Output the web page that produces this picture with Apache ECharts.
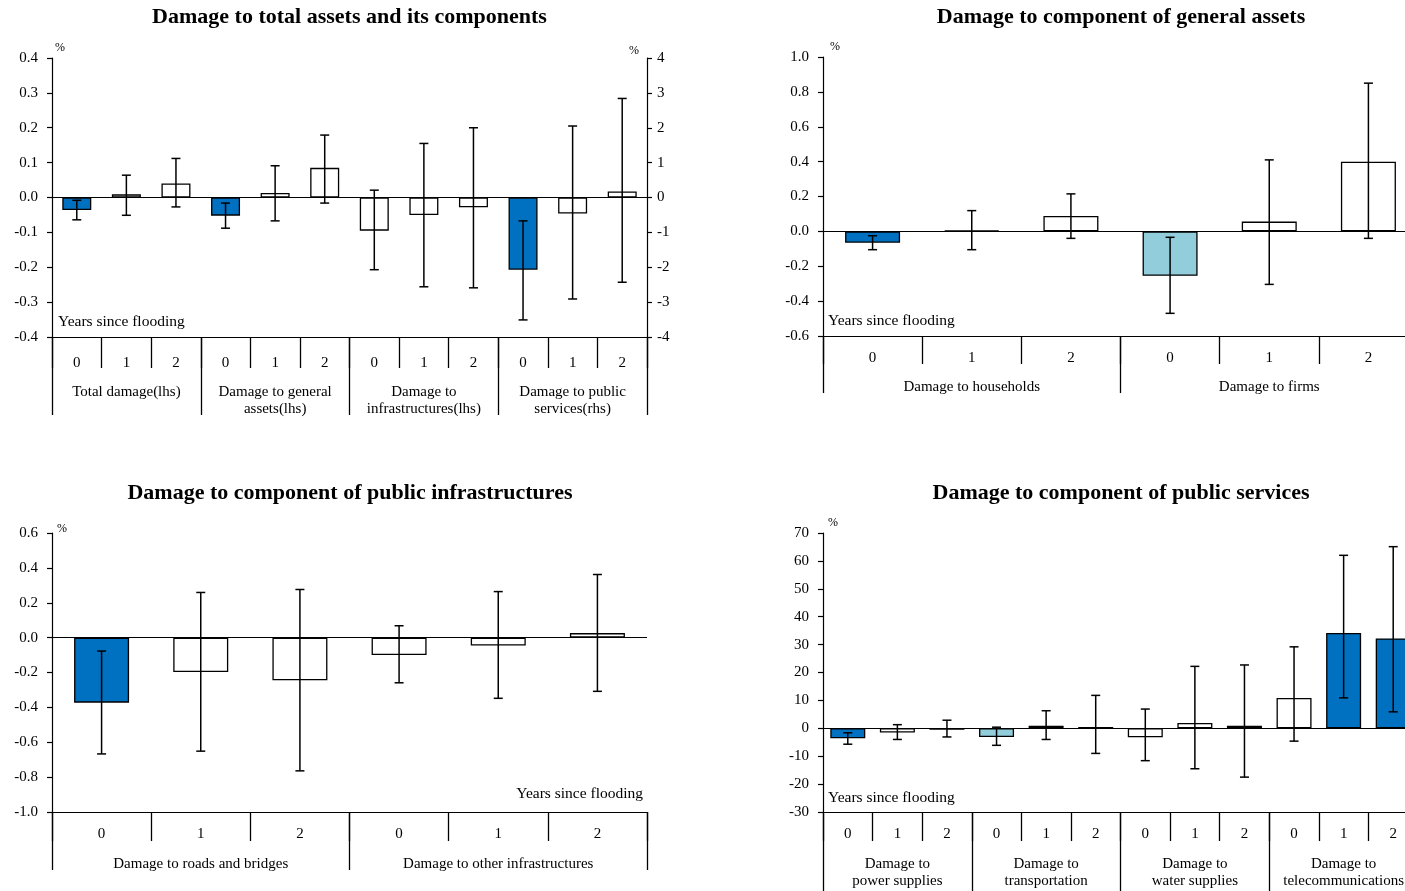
<!DOCTYPE html>
<html><head><meta charset="utf-8">
<script src="https://cdn.jsdelivr.net/npm/echarts@6/dist/echarts.min.js"></script>
<style>html,body{margin:0;padding:0;background:#fff;overflow:hidden}#c{width:1418px;height:891px}</style>
</head><body><div id="c"></div>
<script>
// ---------- DATA ----------
const yearCats6 = ['0', '1', '2', '0', '1', '2'];
const yearCats12 = ['0', '1', '2', '0', '1', '2', '0', '1', '2', '0', '1', '2'];

// Panel 1: Damage to total assets and its components
const p1Title = 'Damage to total assets and its components';
const p1Groups = ['Total damage(lhs)', 'Damage to general\nassets(lhs)', 'Damage to\ninfrastructures(lhs)', 'Damage to public\nservices(rhs)'];
const p1Values = [-0.036, 0.009, 0.040, -0.052, 0.013, 0.085, -0.095, -0.050, -0.028, -2.07, -0.46, 0.17];
const p1Low    = [-0.064, -0.051, -0.027, -0.088, -0.067, -0.016, -0.207, -0.256, -0.259, -3.51, -2.91, -2.43];
const p1High   = [-0.008, 0.064, 0.112, -0.016, 0.091, 0.179, 0.021, 0.155, 0.200, -0.67, 2.05, 2.84];
const p1Sig    = ['s', 'n', 'n', 's', 'n', 'n', 'n', 'n', 'n', 's', 'n', 'n'];
const p1Side   = [0, 0, 0, 0, 0, 0, 0, 0, 0, 1, 1, 1]; // 0 = lhs, 1 = rhs
const p1LeftTicks  = [-0.4, -0.3, -0.2, -0.1, 0.0, 0.1, 0.2, 0.3, 0.4];
const p1RightTicks = [-4, -3, -2, -1, 0, 1, 2, 3, 4];

// Panel 2: Damage to component of general assets
const p2Title = 'Damage to component of general assets';
const p2Groups = ['Damage to households', 'Damage to firms'];
const p2Values = [-0.065, 0.005, 0.088, -0.255, 0.056, 0.400];
const p2Low    = [-0.105, -0.105, -0.040, -0.470, -0.304, -0.040];
const p2High   = [-0.025, 0.119, 0.215, -0.034, 0.410, 0.850];
const p2Sig    = ['s', 'n', 'n', 'w', 'n', 'n'];
const p2Ticks  = [-0.6, -0.4, -0.2, 0.0, 0.2, 0.4, 0.6, 0.8, 1.0];

// Panel 3: Damage to component of public infrastructures
const p3Title = 'Damage to component of public infrastructures';
const p3Groups = ['Damage to roads and bridges', 'Damage to other infrastructures'];
const p3Values = [-0.373, -0.197, -0.245, -0.100, -0.045, 0.026];
const p3Low    = [-0.667, -0.651, -0.764, -0.259, -0.348, -0.308];
const p3High   = [-0.077, 0.259, 0.276, 0.068, 0.264, 0.362];
const p3Sig    = ['s', 'n', 'n', 'n', 'n', 'n'];
const p3Ticks  = [-1.0, -0.8, -0.6, -0.4, -0.2, 0.0, 0.2, 0.4, 0.6];

// Panel 4: Damage to component of public services
const p4Title = 'Damage to component of public services';
const p4Groups = ['Damage to\npower supplies', 'Damage to\ntransportation', 'Damage to\nwater supplies', 'Damage to\ntelecommunications'];
const p4Values = [-3.6, -1.5, -0.5, -3.1, 0.9, 0.5, -3.2, 1.9, 0.9, 10.9, 34.2, 32.2];
const p4Low    = [-5.7, -4.0, -3.1, -6.1, -4.0, -9.0, -11.6, -14.5, -17.5, -4.6, 10.9, 5.9];
const p4High   = [-1.6, 1.3, 2.9, 0.4, 6.3, 11.8, 6.9, 22.2, 22.7, 29.2, 62.0, 65.1];
const p4Sig    = ['s', 'n', 'n', 'w', 'n', 'n', 'n', 'n', 'n', 'n', 's', 's'];
const p4Ticks  = [-30, -20, -10, 0, 10, 20, 30, 40, 50, 60, 70];

const yearsLabel = 'Years since flooding';

// ---------- STYLE / BUILD ----------
const FONT = '"Liberation Serif", "Times New Roman", serif';
const FILL = { s: '#0070C0', w: '#92CDDC', n: '#FFFFFF' };
const option = { animation: false, backgroundColor: '#fff', grid: [], xAxis: [], yAxis: [], series: [], graphic: [] };

function yAxisDef(gi, ticks, dec, position, margin) {
  return {
    type: 'value', gridIndex: gi, position: position,
    min: ticks[0], max: ticks[ticks.length - 1], interval: ticks[1] - ticks[0],
    axisLine: { show: true, onZero: false, lineStyle: { color: '#000', width: 1.2 } },
    axisTick: { show: true, inside: false, length: 5, lineStyle: { color: '#000', width: 1.2 } },
    axisLabel: { color: '#000', fontFamily: FONT, fontSize: 15, margin: margin,
      formatter: v => (Math.abs(v) < 1e-9 ? 0 : v).toFixed(dec) },
    splitLine: { show: false }
  };
}

function addPanel(p) {
  const gi = option.grid.length;
  option.grid.push({ left: p.left, top: p.top, height: 279, width: 595 });
  const xi = option.xAxis.length;
  option.xAxis.push({
    type: 'category', gridIndex: gi, data: p.cats, position: 'bottom',
    axisLine: { onZero: false, lineStyle: { color: '#000', width: 1.2 } },
    axisTick: { show: true, interval: 0, length: p.tickLen, lineStyle: { color: '#000', width: 1.3 } },
    axisLabel: { interval: 0, margin: p.catMargin, color: '#000', fontFamily: FONT, fontSize: 15 },
    splitLine: { show: false }
  });
  option.xAxis.push({
    type: 'category', gridIndex: gi, data: p.groups, position: 'bottom',
    axisLine: { show: false, onZero: false },
    axisTick: { show: true, interval: 0, length: p.groupTickLen, lineStyle: { color: '#000', width: 1.3 } },
    axisLabel: { interval: 0, margin: p.groupMargin, color: '#000', fontFamily: FONT, fontSize: 15, lineHeight: 17 },
    splitLine: { show: false }
  });
  const yi = option.yAxis.length;
  option.yAxis.push(yAxisDef(gi, p.ticks, p.dec, 'left', 14));
  if (p.rightTicks) option.yAxis.push(yAxisDef(gi, p.rightTicks, 0, 'right', 10));

  const sides = p.rightTicks ? [0, 1] : [0];
  sides.forEach(side => {
    const barData = p.values.map((v, i) => {
      const s = p.side ? p.side[i] : 0;
      if (s !== side) return '-';
      return { value: v, itemStyle: { color: FILL[p.sig[i]] } };
    });
    const bar = {
      type: 'bar', xAxisIndex: xi, yAxisIndex: yi + side, data: barData,
      barWidth: p.barWidth, barGap: '-100%',
      itemStyle: { borderColor: '#000', borderWidth: 1.3 },
      z: 2
    };
    if (side === 0) {
      bar.markLine = { silent: true, symbol: 'none', label: { show: false },
        lineStyle: { color: '#000', width: 1.2, type: 'solid' }, data: [{ yAxis: 0 }], z: 3 };
    }
    option.series.push(bar);
    const errData = [];
    p.values.forEach((v, i) => {
      const s = p.side ? p.side[i] : 0;
      if (s === side) errData.push([i, p.low[i], p.high[i]]);
    });
    option.series.push({
      type: 'custom', xAxisIndex: xi, yAxisIndex: yi + side, data: errData,
      encode: { x: 0, y: [1, 2] }, z: 5,
      renderItem: (params, api) => {
        const x = api.value(0);
        const a = api.coord([x, api.value(2)]);
        const b = api.coord([x, api.value(1)]);
        const c = 4.5;
        const st = { stroke: '#000', lineWidth: 1.5 };
        return { type: 'group', children: [
          { type: 'line', shape: { x1: a[0], y1: a[1], x2: b[0], y2: b[1] }, style: st },
          { type: 'line', shape: { x1: a[0] - c, y1: a[1], x2: a[0] + c, y2: a[1] }, style: st },
          { type: 'line', shape: { x1: b[0] - c, y1: b[1], x2: b[0] + c, y2: b[1] }, style: st }
        ] };
      }
    });
  });
}

function txt(x, y, text, font, align) {
  option.graphic.push({ type: 'text', x: x, y: y, z: 100, silent: true,
    style: { text: text, font: font, fill: '#000', align: align || 'left', verticalAlign: 'middle' } });
}

addPanel({ left: 52, top: 58, cats: yearCats12, groups: p1Groups, values: p1Values, low: p1Low, high: p1High,
  sig: p1Sig, side: p1Side, ticks: p1LeftTicks, rightTicks: p1RightTicks, dec: 1,
  tickLen: 31, groupTickLen: 78, catMargin: 19, groupMargin: 47, barWidth: 29 });
addPanel({ left: 823, top: 57, cats: yearCats6, groups: p2Groups, values: p2Values, low: p2Low, high: p2High,
  sig: p2Sig, ticks: p2Ticks, dec: 1,
  tickLen: 28, groupTickLen: 57, catMargin: 15, groupMargin: 43, barWidth: 55 });
addPanel({ left: 52, top: 533, cats: yearCats6, groups: p3Groups, values: p3Values, low: p3Low, high: p3High,
  sig: p3Sig, ticks: p3Ticks, dec: 1,
  tickLen: 29, groupTickLen: 58, catMargin: 15, groupMargin: 44, barWidth: 55 });
addPanel({ left: 823, top: 533, cats: yearCats12, groups: p4Groups, values: p4Values, low: p4Low, high: p4High,
  sig: p4Sig, ticks: p4Ticks, dec: 0,
  tickLen: 29, groupTickLen: 80, catMargin: 15, groupMargin: 44, barWidth: 35 });

const TF = 'bold 22px "Liberation Serif", "Times New Roman", serif';
txt(349.5, 17, p1Title, TF, 'center');
txt(1121, 17, p2Title, TF, 'center');
txt(350, 493, p3Title, TF, 'center');
txt(1121, 493, p4Title, TF, 'center');

const PF = '12px "Liberation Serif", serif';
txt(55, 48, '%', PF); txt(629, 51, '%', PF); txt(830, 47, '%', PF); txt(57, 529, '%', PF); txt(828, 523, '%', PF);

const YF = '15.5px "Liberation Serif", serif';
txt(58, 322, yearsLabel, YF);
txt(828, 321, yearsLabel, YF);
txt(643, 794, yearsLabel, YF, 'right');
txt(828, 798, yearsLabel, YF);

const chart = echarts.init(document.getElementById('c'), null, { renderer: 'canvas' });
chart.setOption(option);
</script></body></html>
